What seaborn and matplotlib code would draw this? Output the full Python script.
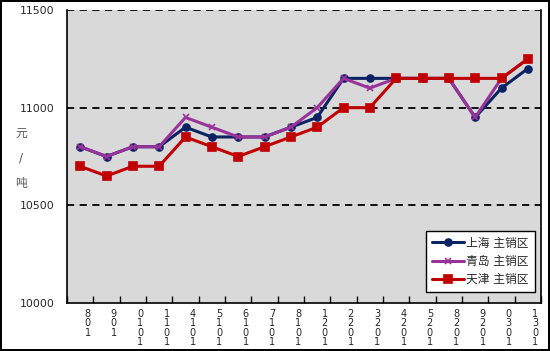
import numpy as np
import pandas as pd
import matplotlib
matplotlib.use("Agg")
import matplotlib.pyplot as plt
import seaborn as sns

# dates as shown on the axis (Oct trading days)
dates = ["108", "109", "1010", "1011", "1014", "1015", "1016", "1017", "1018",
         "1021", "1022", "1023", "1024", "1025", "1028", "1029", "1030", "1031"]
shanghai = [10800, 10750, 10800, 10800, 10900, 10850, 10850, 10850, 10900,
            10950, 11150, 11150, 11150, 11150, 11150, 10950, 11100, 11200]
qingdao = [10800, 10750, 10800, 10800, 10950, 10900, 10850, 10850, 10900,
           11000, 11150, 11100, 11150, 11150, 11150, 10950, 11150, 11250]
tianjin = [10700, 10650, 10700, 10700, 10850, 10800, 10750, 10800, 10850,
           10900, 11000, 11000, 11150, 11150, 11150, 11150, 11150, 11250]
series_names = ["上海 主销区", "青岛 主销区", "天津 主销区"]
y_ticks = [10000, 10500, 11000, 11500]

sns.set_style("white")
plt.rcParams['font.family'] = ['DejaVu Sans', 'Noto Sans CJK SC']

fig = plt.figure(figsize=(5.5, 3.51), dpi=100)
fig.patch.set_facecolor("white")
fig.patch.set_edgecolor("black")
fig.patch.set_linewidth(1.5)
ax = fig.add_axes([67 / 550, 1 - 303 / 351, 474 / 550, 293 / 351])
ax.set_facecolor("#D9D9D9")

x = np.arange(len(dates))
df = pd.DataFrame({"x": x, series_names[0]: shanghai,
                   series_names[1]: qingdao, series_names[2]: tianjin})

styles = [
    (series_names[0], "#0B2263", "o", 5),
    (series_names[1], "#993399", "x", 4),
    (series_names[2], "#C00000", "s", 6),
]
for name, col, mk, ms in styles:
    sns.lineplot(data=df, x="x", y=name, ax=ax, color=col, marker=mk,
                 markersize=ms, linewidth=2.2, markeredgecolor=col,
                 markeredgewidth=1.2, label=name, sort=False)

ax.set_xlim(-0.5, len(dates) - 0.5)
ax.set_ylim(10000, 11500)
ax.set_yticks(y_ticks)
ax.set_yticklabels([str(v) for v in y_ticks], fontsize=7.8)
for v in y_ticks[1:]:
    ax.axhline(v, color="black", linestyle=(0, (4, 3)), linewidth=1.3, zorder=1)

# category boundary ticks, labels stacked vertically
ax.set_xticks(np.arange(len(dates) + 1) - 0.5, minor=True)
ax.set_xticks(x + 0.28)
ax.set_xticklabels(["\n".join(d[::-1]) for d in dates], fontsize=7,
                   linespacing=0.95, va="top")
ax.tick_params(axis="x", which="minor", direction="in", length=5, width=1,
               color="black", bottom=True)
ax.tick_params(axis="x", which="major", length=0, pad=4)
ax.tick_params(axis="y", which="major", length=0, pad=9)
ax.set_xlabel("")
ax.set_ylabel("")

for side in ["left", "bottom", "right"]:
    ax.spines[side].set_color("black")
    ax.spines[side].set_linewidth(1.2)
ax.spines["top"].set_visible(False)

fig.text(21 / 550, 1 - 158 / 351, "元\n/\n吨", fontsize=8.5, color="#555555",
         ha="center", va="center", linespacing=2.2)

leg = ax.legend(loc="lower right", bbox_to_anchor=(0.987, 0.0375), fontsize=8.5,
                frameon=True, fancybox=False, handlelength=2.7, borderaxespad=0,
                borderpad=0.5, labelspacing=0.45, handletextpad=0.2)
leg.get_frame().set_edgecolor("black")
leg.get_frame().set_linewidth(1)
leg.get_frame().set_facecolor("white")
leg.get_frame().set_alpha(1)

fig.savefig("out.png", dpi=100, facecolor="white", edgecolor="black")
